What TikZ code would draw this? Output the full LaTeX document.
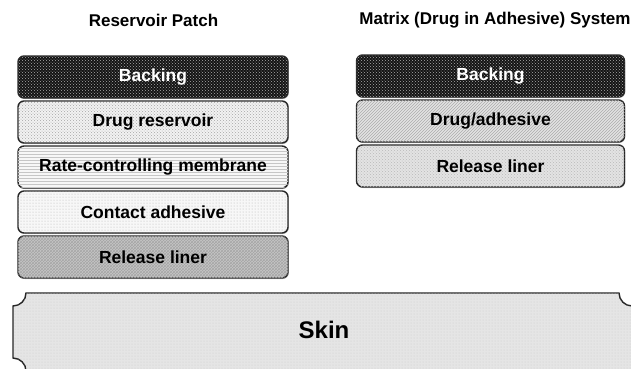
\documentclass[tikz,border=0pt]{standalone}
\usepackage{fontspec}
\setmainfont{Liberation Sans}
\usetikzlibrary{patterns,shadows}
\tikzset{
  layer/.style={draw=black!85, line width=1.4pt, rounded corners=6pt,
    minimum height=42pt, inner sep=0pt,
    font=\fontsize{17.5}{20}\selectfont\bfseries,
    drop shadow={shadow xshift=0.8pt, shadow yshift=-1pt, opacity=0.45}},
  leftlayer/.style={layer, minimum width=270pt},
  rightlayer/.style={layer, minimum width=268pt},
  title/.style={font=\fontsize{17}{20}\selectfont\bfseries},
  backingfill/.style={fill=black!92, text=white,
    postaction={pattern=crosshatch dots, pattern color=gray!65}},
  reservoirfill/.style={fill=gray!10,
    postaction={pattern=crosshatch dots, pattern color=gray!70}},
  membranefill/.style={fill=gray!6,
    postaction={pattern=horizontal lines, pattern color=gray!45}},
  contactfill/.style={fill=gray!6,
    postaction={pattern=dots, pattern color=gray!60}},
  linerleftfill/.style={fill=gray!45,
    postaction={pattern=crosshatch, pattern color=gray!70}},
  drugadhfill/.style={fill=gray!22,
    postaction={pattern=north east lines, pattern color=gray!65}},
  linerrightfill/.style={fill=gray!22,
    postaction={pattern=crosshatch dots, pattern color=gray!55}},
}
\begin{document}
\begin{tikzpicture}[x=1pt,y=1pt]
\useasboundingbox (0,0) rectangle (631,368);
\clip (0,0) rectangle (631,368);

% titles
\node[title] (t1) at (153.5,348) {Reservoir Patch};
\node[title] (t2) at (495,348) {Matrix (Drug in Adhesive) System};

% reservoir patch layers
\node[leftlayer, backingfill] (lb) at (153,291) {Backing};
\node[leftlayer, reservoirfill] (lr) at (153,246) {Drug reservoir};
\node[leftlayer, membranefill] (lm) at (153,201) {Rate-controlling membrane};
\node[leftlayer, contactfill] (lc) at (153,156) {Contact adhesive};
\node[leftlayer, linerleftfill] (ll) at (153,111) {Release liner};

% matrix system layers
\node[rightlayer, backingfill] (rb) at (490.5,292) {Backing};
\node[rightlayer, drugadhfill] (rd) at (490.5,247) {Drug/adhesive};
\node[rightlayer, linerrightfill] (rl) at (490.5,202) {Release liner};

% skin
\path[draw=black!85, line width=1.4pt, fill=gray!20,
      postaction={pattern=dots, pattern color=gray!40},
      drop shadow={shadow xshift=0.8pt, shadow yshift=-1pt, opacity=0.45}]
  (26,75) -- (619,75) arc[start angle=180,end angle=270,radius=13]
  -- (632,-10) arc[start angle=90,end angle=180,radius=13]
  -- (26,-3) arc[start angle=0,end angle=90,radius=13]
  -- (13,62) arc[start angle=270,end angle=360,radius=13] -- cycle;
\node[font=\fontsize{24}{28}\selectfont\bfseries] (skin) at (324,38) {Skin};
\end{tikzpicture}
\end{document}
